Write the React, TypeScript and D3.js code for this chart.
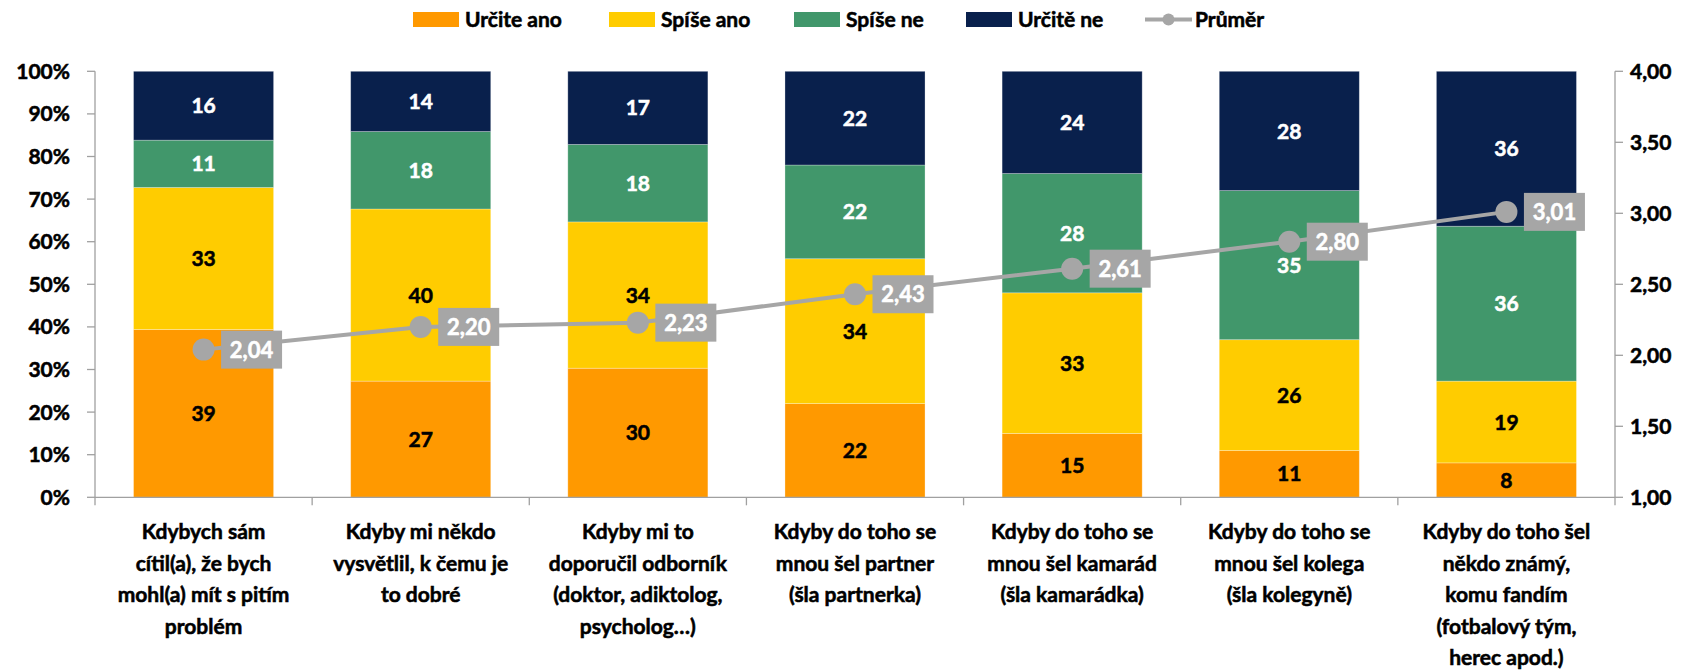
import * as React from "react";
import * as d3 from "d3";

// categories (line breaks as in the original chart)
const categories = [
  "Kdybych sám\ncítil(a), že bych\nmohl(a) mít s pitím\nproblém",
  "Kdyby mi někdo\nvysvětlil, k čemu je\nto dobré",
  "Kdyby mi to\ndoporučil odborník\n(doktor, adiktolog,\npsycholog…)",
  "Kdyby do toho se\nmnou šel partner\n(šla partnerka)",
  "Kdyby do toho se\nmnou šel kamarád\n(šla kamarádka)",
  "Kdyby do toho se\nmnou šel kolega\n(šla kolegyně)",
  "Kdyby do toho šel\nněkdo známý,\nkomu fandím\n(fotbalový tým,\nherec apod.)",
];

const seriesNames = ["Určite ano", "Spíše ano", "Spíše ne", "Určitě ne"];
const lineName = "Průměr";

const urciteAno = [39, 27, 30, 22, 15, 11, 8];
const spiseAno = [33, 40, 34, 34, 33, 26, 19];
const spiseNe = [11, 18, 18, 22, 28, 35, 36];
const urciteNe = [16, 14, 17, 22, 24, 28, 36];
const prumer = [2.04, 2.2, 2.23, 2.43, 2.61, 2.8, 3.01];

const leftTicks = [0, 10, 20, 30, 40, 50, 60, 70, 80, 90, 100];
const rightTicks = [1, 1.5, 2, 2.5, 3, 3.5, 4];

const colors = ["#FF9900", "#FFCC00", "#41976B", "#09204C"];
const labelColors = ["#000", "#000", "#fff", "#fff"];
const lineColor = "#A6A6A6";
const axisColor = "#A0A0A0";
const font = "Lato, 'Open Sans', sans-serif";

function drawChart(svgRef: React.RefObject<SVGSVGElement>) {
  const svg = d3.select(svgRef.current);
  svg.selectAll("*").remove();

  const left = 95;
  const right = 1615;
  const top = 71.3;
  const bottom = 497.3;
  const fontSize = 21;
  const heavy = 0.55; // Lato bold is lighter than the original font, thicken a bit

  const rows = categories.map((c, i) => ({
    cat: c,
    [seriesNames[0]]: urciteAno[i],
    [seriesNames[1]]: spiseAno[i],
    [seriesNames[2]]: spiseNe[i],
    [seriesNames[3]]: urciteNe[i],
  }));

  const stacked = d3
    .stack<any>()
    .keys(seriesNames)
    .offset(d3.stackOffsetExpand)(rows);

  /* Scales */
  const x = d3
    .scaleBand<string>()
    .domain(categories)
    .range([left, right])
    .paddingInner(0.355)
    .paddingOuter(0.1775);

  const band = (right - left) / categories.length;

  const y = d3.scaleLinear().domain([0, 1]).range([bottom, top]);
  const yPct = d3.scaleLinear().domain([0, 100]).range([bottom, top]);
  const yAvg = d3.scaleLinear().domain([1, 4]).range([bottom, top]);

  const g = svg.append("g").attr("font-family", font).attr("font-weight", "bold");

  // bars
  const layers = g
    .selectAll("g.layer")
    .data(stacked)
    .enter()
    .append("g")
    .attr("class", "layer")
    .attr("fill", (_d, i) => colors[i]);

  layers
    .selectAll("rect")
    .data((d) => d)
    .enter()
    .append("rect")
    .attr("x", (d) => x(d.data.cat)!)
    .attr("width", x.bandwidth())
    .attr("y", (d) => y(d[1]))
    .attr("height", (d) => y(d[0]) - y(d[1]))
    .attr("stroke", "#fff")
    .attr("stroke-opacity", 0.35)
    .attr("stroke-width", 0.8);

  // value labels inside bars
  stacked.forEach((layer, li) => {
    g.append("g")
      .selectAll("text")
      .data(layer)
      .enter()
      .append("text")
      .attr("x", (d) => x(d.data.cat)! + x.bandwidth() / 2)
      .attr("y", (d) => (y(d[0]) + y(d[1])) / 2)
      .attr("dy", "0.36em")
      .attr("text-anchor", "middle")
      .attr("font-size", fontSize)
      .attr("fill", labelColors[li])
      .attr("stroke", labelColors[li])
      .attr("stroke-width", heavy)
      .text((d) => d.data[seriesNames[li]]);
  });

  // axes
  const axes = g.append("g").attr("stroke", axisColor).attr("stroke-width", 1.3);
  axes.append("line").attr("x1", left).attr("x2", left).attr("y1", top).attr("y2", bottom);
  axes.append("line").attr("x1", right).attr("x2", right).attr("y1", top).attr("y2", bottom);
  axes.append("line").attr("x1", left).attr("x2", right).attr("y1", bottom).attr("y2", bottom);

  axes
    .selectAll("line.lt")
    .data(leftTicks)
    .enter()
    .append("line")
    .attr("class", "lt")
    .attr("x1", left - 8)
    .attr("x2", left)
    .attr("y1", (d) => yPct(d))
    .attr("y2", (d) => yPct(d));

  axes
    .selectAll("line.rt")
    .data(rightTicks)
    .enter()
    .append("line")
    .attr("class", "rt")
    .attr("x1", right)
    .attr("x2", right + 8)
    .attr("y1", (d) => yAvg(d))
    .attr("y2", (d) => yAvg(d));

  axes
    .selectAll("line.xt")
    .data(d3.range(categories.length + 1))
    .enter()
    .append("line")
    .attr("class", "xt")
    .attr("x1", (i) => left + i * band)
    .attr("x2", (i) => left + i * band)
    .attr("y1", bottom)
    .attr("y2", bottom + 8);

  const txt = g.append("g").attr("fill", "#000").attr("stroke", "#000").attr("stroke-width", heavy);

  txt
    .append("g")
    .selectAll("text")
    .data(leftTicks)
    .enter()
    .append("text")
    .attr("x", 70)
    .attr("y", (d) => yPct(d))
    .attr("dy", "0.36em")
    .attr("text-anchor", "end")
    .attr("font-size", fontSize)
    .text((d) => `${d}%`);

  txt
    .append("g")
    .selectAll("text")
    .data(rightTicks)
    .enter()
    .append("text")
    .attr("x", 1630)
    .attr("y", (d) => yAvg(d))
    .attr("dy", "0.36em")
    .attr("font-size", fontSize)
    .text((d) => d.toFixed(2).replace(".", ","));

  // category labels
  const catLabels = txt
    .append("g")
    .selectAll("text")
    .data(categories)
    .enter()
    .append("text")
    .attr("text-anchor", "middle")
    .attr("font-size", fontSize);

  catLabels
    .selectAll("tspan")
    .data((d) => d.split("\n").map((t) => ({ t, c: d })))
    .enter()
    .append("tspan")
    .attr("x", (d) => x(d.c)! + x.bandwidth() / 2)
    .attr("y", (_d, i) => 539 + i * 31.5)
    .text((d) => d.t);

  // average line
  const cx = (i: number) => x(categories[i])! + x.bandwidth() / 2;
  const line = d3
    .line<number>()
    .x((_d, i) => cx(i))
    .y((d) => yAvg(d));

  g.append("path")
    .attr("d", line(prumer))
    .attr("fill", "none")
    .attr("stroke", lineColor)
    .attr("stroke-width", 4);

  g.append("g")
    .selectAll("circle")
    .data(prumer)
    .enter()
    .append("circle")
    .attr("cx", (_d, i) => cx(i))
    .attr("cy", (d) => yAvg(d))
    .attr("r", 11)
    .attr("fill", lineColor);

  const avgLabels = g
    .append("g")
    .selectAll("g")
    .data(prumer)
    .enter()
    .append("g")
    .attr("transform", (d, i) => `translate(${cx(i) + 17.5}, ${yAvg(d)})`);

  avgLabels
    .append("rect")
    .attr("x", 0)
    .attr("y", -19)
    .attr("width", 61)
    .attr("height", 38)
    .attr("fill", lineColor);

  avgLabels
    .append("text")
    .attr("x", 30.5)
    .attr("dy", "0.36em")
    .attr("text-anchor", "middle")
    .attr("font-size", 22)
    .attr("fill", "#fff")
    .attr("stroke", "#fff")
    .attr("stroke-width", heavy)
    .text((d) => d.toFixed(2).replace(".", ","));

  // legend
  const legendX = [413, 609, 794, 966, 1145];
  const legendY = 19.5;
  const legend = g
    .append("g")
    .selectAll("g")
    .data([...seriesNames, lineName])
    .enter()
    .append("g")
    .attr("transform", (_d, i) => `translate(${legendX[i]}, ${legendY})`);

  legend.each(function (d, i) {
    const item = d3.select(this);
    if (i < seriesNames.length) {
      item
        .append("rect")
        .attr("x", 0)
        .attr("y", -7.5)
        .attr("width", 46)
        .attr("height", 15)
        .attr("fill", colors[i]);
    } else {
      item
        .append("line")
        .attr("x1", 0)
        .attr("x2", 47)
        .attr("stroke", lineColor)
        .attr("stroke-width", 4);
      item.append("circle").attr("cx", 23.5).attr("r", 6).attr("fill", lineColor);
    }
    item
      .append("text")
      .attr("x", i < seriesNames.length ? 52 : 50)
      .attr("dy", "0.36em")
      .attr("font-size", fontSize)
      .attr("stroke", "#000")
      .attr("stroke-width", heavy)
      .text(d);
  });
}

export default function App() {
  const svg = React.useRef<SVGSVGElement>(null);
  React.useEffect(() => {
    drawChart(svg);
  }, [svg]);

  return (
    <svg
      ref={svg}
      width={1700}
      height={670}
      style={{ position: "absolute", left: 0, top: 0, display: "block", background: "#fff" }}
    />
  );
}
